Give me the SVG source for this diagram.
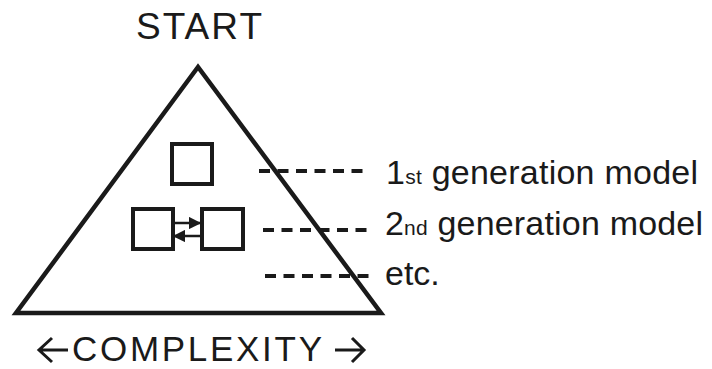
<svg xmlns="http://www.w3.org/2000/svg" width="712" height="369" viewBox="0 0 712 369">
<style>
.t{font-family:"Liberation Sans",Arial,sans-serif;fill:#1a1a1a}
.box{fill:none;stroke:#1a1a1a;stroke-width:4}
.dash{stroke:#1a1a1a;stroke-width:4;stroke-dasharray:11 7.5}
.arr{fill:none;stroke:#1a1a1a;stroke-width:3;stroke-linecap:butt;stroke-linejoin:miter}
</style>
<defs>
<marker id="ah" viewBox="0 0 10 10" refX="9" refY="5" markerWidth="5" markerHeight="5" orient="auto" markerUnits="strokeWidth"><path d="M0,0 L10,5 L0,10 z" fill="#1a1a1a"/></marker>
</defs>
<rect width="712" height="369" fill="#fff"/>
<g id="triangle"><polygon points="198,67 16,313 381,313" fill="none" stroke="#1a1a1a" stroke-width="4.5" stroke-linejoin="miter"/></g>
<text class="t" x="136" y="39" font-size="37" textLength="126" lengthAdjust="spacing">START</text>
<g id="model1"><rect class="box" x="172" y="144" width="40" height="40"/></g>
<g id="model2a"><rect class="box" x="133" y="209" width="40" height="40"/></g>
<g id="model2b"><rect class="box" x="202" y="209" width="41" height="40"/></g>
<g id="connectors">
<line x1="175" y1="223" x2="200" y2="223" stroke="#1a1a1a" stroke-width="2.5" marker-end="url(#ah)"/>
<line x1="200" y1="236" x2="174" y2="236" stroke="#1a1a1a" stroke-width="2.5" marker-end="url(#ah)"/>
<line class="dash" x1="259" y1="171" x2="364" y2="171"/>
<line class="dash" x1="263" y1="230" x2="368" y2="230"/>
<line class="dash" x1="265" y1="276" x2="370" y2="276"/>
</g>
<text class="t" x="386" y="184" font-size="34" textLength="312" lengthAdjust="spacing">1<tspan font-size="21">st</tspan> generation model</text>
<text class="t" x="385" y="235" font-size="34" textLength="318" lengthAdjust="spacing">2<tspan font-size="21">nd</tspan> generation model</text>
<text class="t" x="385" y="285" font-size="34">etc.</text>
<text class="t" x="72" y="361" font-size="35" textLength="250" lengthAdjust="spacing">COMPLEXITY</text>
<path class="arr" d="M68,350 H39 M52,338 L39,350 L52,362"/>
<path class="arr" d="M335,350 H364 M352,338 L364,350 L352,362"/>
</svg>
